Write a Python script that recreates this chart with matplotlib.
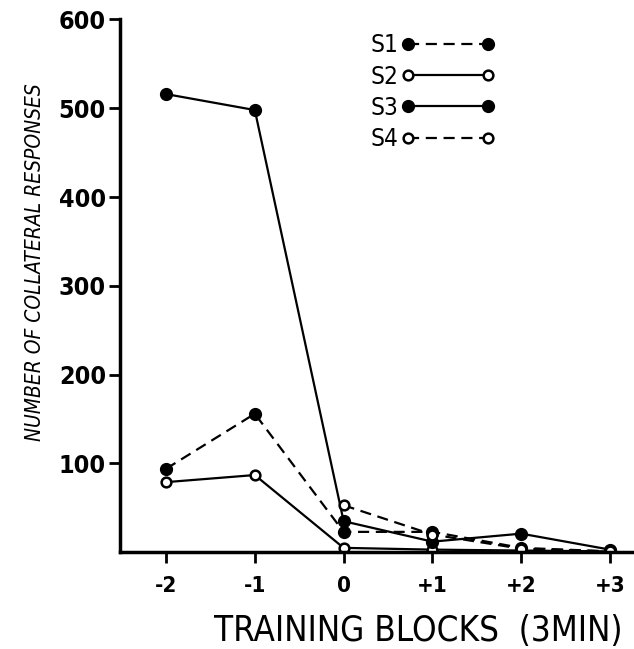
import numpy as np
import matplotlib
matplotlib.use("Agg")
import matplotlib.pyplot as plt

plt.rcParams['font.family'] = ['DejaVu Sans']
plt.rcParams['font.stretch'] = 'condensed'

# training blocks (3 min) and responses per subject
blocks = [-2, -1, 0, 1, 2, 3]
block_labels = ['-2', '-1', '0', '+1', '+2', '+3']
s1 = [94, 156, 23, 23, 5, 1]
s2 = [79, 87, 5, 3, 2, 1]
s3 = [516, 498, 35, 12, 21, 3]
s4 = [np.nan, np.nan, 53, 20, 4, 1]
yticks = [100, 200, 300, 400, 500, 600]

fig = plt.figure(figsize=(6.34, 6.49), dpi=100)
ax = fig.add_axes([0.189, 0.149, 0.811, 0.821])

filled = dict(marker='o', markersize=8.5, markerfacecolor='black',
              markeredgecolor='black', color='black', linewidth=1.6)
hollow = dict(marker='o', markersize=7, markerfacecolor='white',
              markeredgecolor='black', markeredgewidth=1.8,
              color='black', linewidth=1.6)

ax.plot(blocks, s1, linestyle=(0, (5, 3)), label='S1', **filled)
ax.plot(blocks, s2, linestyle='-', label='S2', **hollow)
ax.plot(blocks, s3, linestyle='-', label='S3', **filled)
ax.plot(blocks, s4, linestyle=(0, (5, 3)), label='S4', **hollow)

ax.set_xlim(-2.52, 3.27)
ax.set_ylim(0, 600)
ax.set_xticks(blocks)
ax.set_xticklabels(block_labels)
ax.set_yticks(yticks)

for side in ['top', 'right']:
    ax.spines[side].set_visible(False)
for side in ['left', 'bottom']:
    ax.spines[side].set_linewidth(2.5)

ax.tick_params(axis='both', direction='out', length=8, width=2)
ax.tick_params(axis='x', labelsize=16, pad=9)
ax.tick_params(axis='y', labelsize=18, pad=2)
for lab in ax.get_xticklabels() + ax.get_yticklabels():
    lab.set_fontweight('bold')

ax.set_xlabel('TRAINING BLOCKS  (3MIN)', fontsize=25)
ax.xaxis.set_label_coords(0.58, -0.115)
ax.set_ylabel('NUMBER OF COLLATERAL RESPONSES', fontsize=15,
              style='italic')
ax.yaxis.set_label_coords(-0.145, 0.545)

ax.legend(loc='upper left', bbox_to_anchor=(0.445, 1.015), frameon=False,
          numpoints=2, markerfirst=False, handlelength=3.9,
          handletextpad=0.1, labelspacing=0.3, fontsize=17.5)

fig.savefig('out.png', dpi=100)
